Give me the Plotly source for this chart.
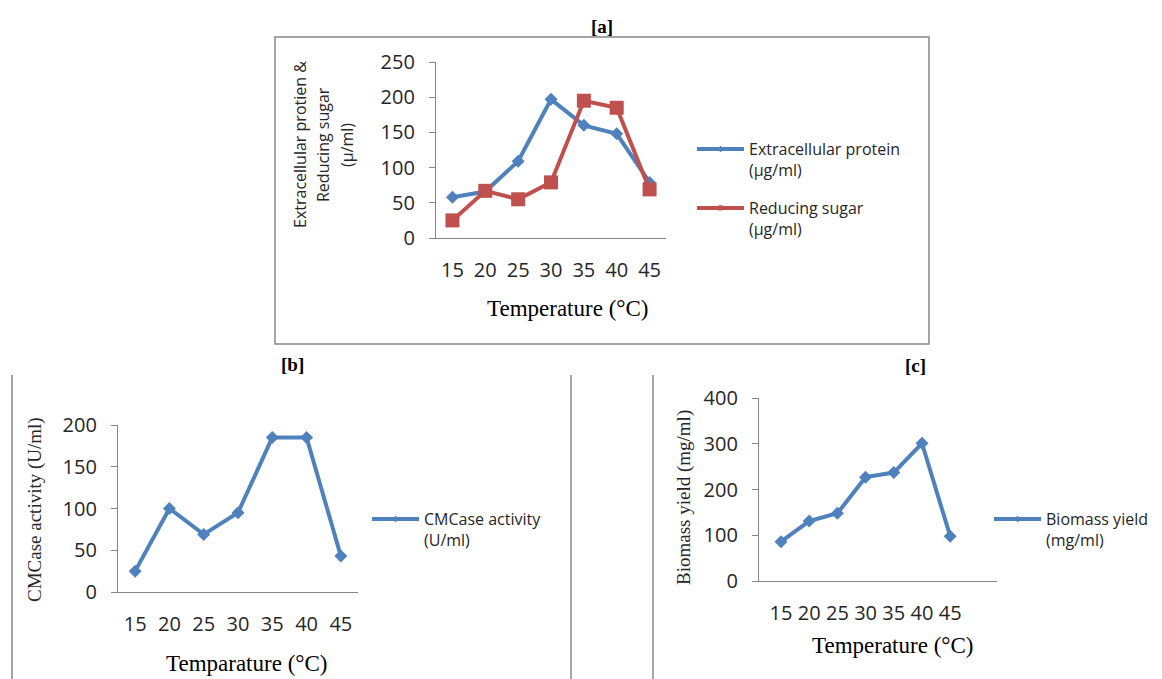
import plotly.graph_objects as go

# ---------------- data ----------------
temperature = [15, 20, 25, 30, 35, 40, 45]
extracellular_protein = [58, 66, 109, 197, 160, 148, 79]
reducing_sugar = [25, 67, 55, 79, 195, 185, 69]
cmcase_activity = [25, 100, 69, 95, 185, 185, 43]
biomass_yield = [86, 131, 148, 227, 237, 301, 98]
ticks_a = [0, 50, 100, 150, 200, 250]
ticks_b = [0, 50, 100, 150, 200]
ticks_c = [0, 100, 200, 300, 400]

W, H = 1162, 679
BLUE = "#4F81BD"
RED = "#C0504D"
AXC = "#868686"
TXT = "#262626"
SANS = "Open Sans"
SERIF = "Liberation Serif"


def px(x):
    return x / W


def py(y):
    return 1 - y / H


fig = go.Figure()

fig.add_trace(go.Scatter(x=temperature, y=extracellular_protein, mode="lines+markers",
                         line=dict(color=BLUE, width=4), marker=dict(symbol="diamond", size=10, color=BLUE),
                         xaxis="x", yaxis="y", showlegend=False))
fig.add_trace(go.Scatter(x=temperature, y=reducing_sugar, mode="lines+markers",
                         line=dict(color=RED, width=4), marker=dict(symbol="square", size=14, color=RED),
                         xaxis="x", yaxis="y", showlegend=False))
fig.add_trace(go.Scatter(x=temperature, y=cmcase_activity, mode="lines+markers",
                         line=dict(color=BLUE, width=4), marker=dict(symbol="diamond", size=10, color=BLUE),
                         xaxis="x2", yaxis="y2", showlegend=False))
fig.add_trace(go.Scatter(x=temperature, y=biomass_yield, mode="lines+markers",
                         line=dict(color=BLUE, width=4), marker=dict(symbol="diamond", size=10, color=BLUE),
                         xaxis="x3", yaxis="y3", showlegend=False))

legend_items = [
    ("Extracellular protein<br>(µg/ml)", BLUE, "diamond", "legend", "x", "y"),
    ("Reducing sugar<br>(µg/ml)", RED, "square", "legend2", "x", "y"),
    ("CMCase activity<br>(U/ml)", BLUE, "diamond", "legend3", "x2", "y2"),
    ("Biomass yield<br>(mg/ml)", BLUE, "diamond", "legend4", "x3", "y3"),
]
for name, col, sym, leg, xa, ya in legend_items:
    fig.add_trace(go.Scatter(x=[None], y=[None], mode="lines+markers", name=name,
                             line=dict(color=col, width=4), marker=dict(symbol=sym, size=5, color=col),
                             xaxis=xa, yaxis=ya, legend=leg, showlegend=True))


def xaxis(dom, rng):
    return dict(domain=[px(dom[0]), px(dom[1])], range=rng, tickvals=temperature,
                ticktext=[str(t) for t in temperature], showline=True, linecolor=AXC, linewidth=1.3,
                ticks="", showgrid=False, zeroline=False, ticklabelstandoff=14, automargin=False,
                tickfont=dict(family=SANS, size=20, color=TXT), fixedrange=True)


def yaxis(dom, rng, tv, anchor):
    return dict(domain=[py(dom[1]), py(dom[0])], range=rng, tickvals=tv, showline=True,
                linecolor=AXC, linewidth=1.3, ticks="outside", ticklen=6, tickcolor=AXC, tickwidth=1.3,
                showgrid=False, zeroline=False, ticklabelstandoff=10, anchor=anchor, automargin=False,
                tickfont=dict(family=SANS, size=20, color=TXT), fixedrange=True)


leg_common = dict(bgcolor="rgba(0,0,0,0)", borderwidth=0, xanchor="left", yanchor="top",
                  valign="top", itemwidth=47, font=dict(family=SANS, size=16, color=TXT),
                  itemclick=False, itemdoubleclick=False)

fig.update_layout(
    width=W, height=H, margin=dict(l=0, r=0, t=0, b=0, autoexpand=False),
    paper_bgcolor="white", plot_bgcolor="white",
    xaxis=dict(xaxis((436, 666), [12.5, 47.5]), anchor="y"),
    yaxis=yaxis((62, 238), [0, 250], ticks_a, "x"),
    xaxis2=dict(xaxis((118, 358), [12.5, 47.5]), anchor="y2"),
    yaxis2=yaxis((425, 592), [0, 200], ticks_b, "x2"),
    xaxis3=dict(xaxis((759, 997), [11.1, 53.3]), anchor="y3"),
    yaxis3=yaxis((398, 581), [0, 400], ticks_c, "x3"),
    legend=dict(leg_common, x=px(692), y=py(132)),
    legend2=dict(leg_common, x=px(692), y=py(191)),
    legend3=dict(leg_common, x=px(367), y=py(502)),
    legend4=dict(leg_common, x=px(989), y=py(502)),
)


def note(text, x, y, size, family=SERIF, angle=0, bold=False, color="black"):
    fig.add_annotation(text=f"<b>{text}</b>" if bold else text, x=px(x), y=py(y),
                       xref="paper", yref="paper", showarrow=False, textangle=angle,
                       xanchor="center", yanchor="middle",
                       font=dict(family=family, size=size, color=color))


note("[a]", 602, 27, 19, bold=True)
note("[b]", 292, 364, 19, bold=True)
note("[c]", 915, 365, 19, bold=True)
note("Temperature (°C)", 567, 309, 23)
note("Temparature (°C)", 247, 663, 23)
note("Temperature (°C)", 892, 645, 23)
note("CMCase activity (U/ml)", 35, 510, 19, angle=-90, color=TXT)
note("Biomass yield (mg/ml)", 684, 498, 19, angle=-90, color=TXT)
note("Extracellular protien &", 300, 145, 16, family=SANS, angle=-90, color=TXT)
note("Reducing sugar", 323, 145, 16, family=SANS, angle=-90, color=TXT)
note("(µ/ml)", 347, 145, 16, family=SANS, angle=-90, color=TXT)

frame = dict(type="line", xref="paper", yref="paper", line=dict(color=AXC, width=1.5))
fig.add_shape(type="rect", xref="paper", yref="paper", x0=px(275), x1=px(929), y0=py(344), y1=py(37),
              line=dict(color=AXC, width=1.5))
for xv in (12, 571, 653):
    fig.add_shape(frame, x0=px(xv), x1=px(xv), y0=py(375), y1=py(679))

fig.write_html("out.html")
